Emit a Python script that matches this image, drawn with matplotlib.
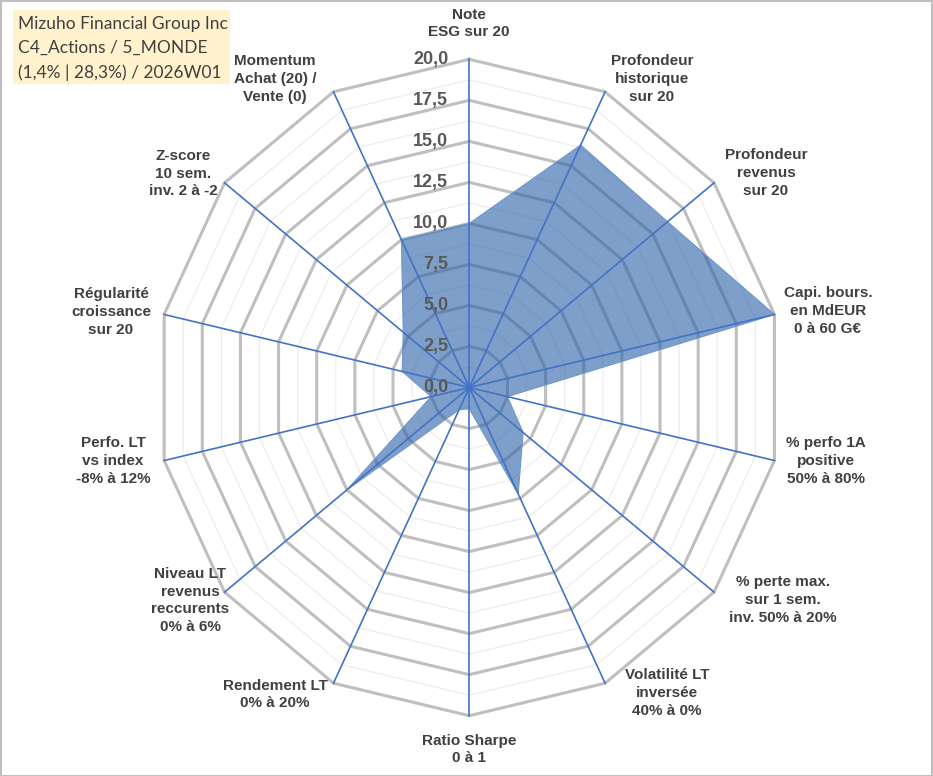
import numpy as np
import matplotlib
matplotlib.use('Agg')
import matplotlib.pyplot as plt
from matplotlib.patches import Rectangle, Polygon
import matplotlib.transforms as mtransforms

# ---------------- data ----------------
categories = [
    "Note\nESG sur 20",
    "Profondeur\nhistorique\nsur 20",
    "Profondeur\nrevenus\nsur 20",
    "Capi. bours.\nen MdEUR\n0 à 60 G€",
    "% perfo 1A\npositive\n50% à 80%",
    "% perte max.\nsur 1 sem.\ninv. 50% à 20%",
    "Volatilité LT\ninversée\n40% à 0%",
    "Ratio Sharpe\n0 à 1",
    "Rendement LT\n0% à 20%",
    "Niveau LT\nrevenus\nreccurents\n0% à 6%",
    "Perfo. LT\nvs index\n-8% à 12%",
    "Régularité\ncroissance\nsur 20",
    "Z-score\n10 sem.\ninv. 2 à -2",
    "Momentum\nAchat (20) /\nVente (0)",
]
values = [10.0, 16.4, 16.2, 20.0, 2.5, 4.4, 7.2, 1.3, 1.5, 10.0, 2.5, 4.4, 5.4, 10.0]
major_ticks = [0.0, 2.5, 5.0, 7.5, 10.0, 12.5, 15.0, 17.5, 20.0]
tick_labels = ["0,0", "2,5", "5,0", "7,5", "10,0", "12,5", "15,0", "17,5", "20,0"]
minor_ticks = [1.25, 3.75, 6.25, 8.75, 11.25, 13.75, 16.25, 18.75]
title_lines = ["Mizuho Financial Group Inc", "C4_Actions / 5_MONDE", "(1,4% | 28,3%) / 2026W01"]

# label block centres (pixels in the 933x776 figure)
label_pos = [(469, 23.5), (652, 79), (766, 173), (828, 311), (826, 461), (783, 600),
             (667, 693), (469, 749.5), (275, 694.5), (190, 600.5), (113, 461),
             (111, 312), (183, 173.5), (275, 79)]

W, H = 933, 776
fig = plt.figure(figsize=(W / 100, H / 100), dpi=100)
fig.patch.set_facecolor('white')

# axes placed so that centre is at (469.3, 387.5) px
xl, yl = 25.0, 22.0
sx, sy = 15.65, 16.41
cx, cy = 469.3, 387.5
ax = fig.add_axes([(cx - xl * sx) / W, 1 - (cy + yl * sy) / H, 2 * xl * sx / W, 2 * yl * sy / H])
ax.set_xlim(-xl, xl)
ax.set_ylim(-yl, yl)
ax.axis('off')

n = len(categories)
theta = 2 * np.pi * np.arange(n) / n
sin_t, cos_t = np.sin(theta), np.cos(theta)

# minor rings
for r in minor_ticks:
    xs = np.append(r * sin_t, r * sin_t[0])
    ys = np.append(r * cos_t, r * cos_t[0])
    ax.plot(xs, ys, color='#EDEDED', lw=0.9, zorder=1)
# major rings
for r in major_ticks[1:]:
    xs = np.append(r * sin_t, r * sin_t[0])
    ys = np.append(r * cos_t, r * cos_t[0])
    ax.plot(xs, ys, color='#BFBFBF', lw=2.2, zorder=2, solid_joinstyle='miter')

# data polygon
v = np.array(values)
poly = Polygon(np.column_stack([v * sin_t, v * cos_t]), closed=True,
               facecolor='#2F64A8', alpha=0.62, edgecolor='none', zorder=3)
ax.add_patch(poly)
ax.plot(np.append(v * sin_t, v[0] * sin_t[0]), np.append(v * cos_t, v[0] * cos_t[0]),
        color='#6F97CF', lw=0.8, zorder=3.5)

# spokes
rmax = major_ticks[-1]
for s, c in zip(sin_t, cos_t):
    ax.plot([0, rmax * s], [0, rmax * c], color='#4472C4', lw=1.2, zorder=4)

# radial tick labels
tr = mtransforms.offset_copy(ax.transData, fig=fig, x=-21, y=0, units='dots')
for r, lab in zip(major_ticks, tick_labels):
    ax.text(0, r, lab, transform=tr, ha='right', va='center', fontsize=13,
            fontweight='bold', family='Liberation Sans', color='#595959', zorder=6)

# category labels
for lab, (px, py) in zip(categories, label_pos):
    fig.text(px / W, 1 - py / H, lab, ha='center', va='center', multialignment='center',
             fontsize=11, fontweight='bold', family='Liberation Sans', color='#404040',
             linespacing=1.32)

# title box
fig.patches.append(Rectangle((13 / W, 1 - 84 / H), (230 - 13) / W, (84 - 10) / H,
                             transform=fig.transFigure, facecolor='#FFF2CC',
                             edgecolor='none', zorder=0))
for i, line in enumerate(title_lines):
    fig.text(18 / W, 1 - (23.5 + 24.5 * i) / H, line, ha='left', va='center',
             fontsize=12.5, family='Lato', color='#404040')

# outer frame
fig.patches.append(Rectangle((0.5 / W, 0.5 / H), (W - 1.5) / W, (H - 1.5) / H,
                             transform=fig.transFigure, facecolor='none',
                             edgecolor='#BFBFBF', lw=1.5, zorder=10))

fig.savefig('out.png', dpi=100)
